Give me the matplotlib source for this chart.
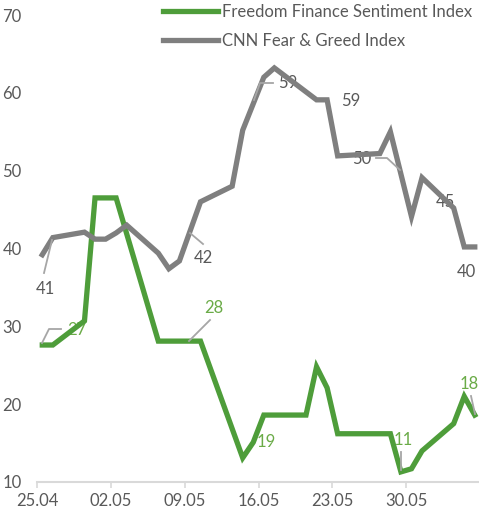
import datetime as dt
import matplotlib
matplotlib.use('Agg')
import matplotlib.pyplot as plt
import matplotlib.dates as mdates

matplotlib.rcParams['font.family'] = ['Lato', 'DejaVu Sans']

# data (day.month of 2022)
ff_dates = ['25.04', '26.04', '29.04', '30.04', '02.05', '06.05', '10.05', '14.05',
            '15.05', '16.05', '20.05', '21.05', '22.05', '23.05', '28.05', '29.05',
            '30.05', '31.05', '03.06', '04.06', '05.06']
ff_values = [27.6, 27.6, 30.7, 46.5, 46.5, 28.1, 28.1, 13.1, 15.1, 18.6, 18.6,
             24.8, 22.1, 16.2, 16.2, 11.3, 11.7, 14.0, 17.5, 21.0, 18.6]

cnn_dates = ['25.04', '26.04', '29.04', '30.04', '01.05', '02.05', '03.05', '06.05',
             '07.05', '08.05', '10.05', '13.05', '14.05', '16.05', '17.05', '21.05',
             '22.05', '23.05', '27.05', '28.05', '30.05', '31.05', '03.06', '04.06',
             '05.06']
cnn_values = [39.2, 41.4, 42.1, 41.2, 41.2, 42.0, 43.0, 39.4, 37.4, 38.4, 46.0,
              48.0, 55.2, 62.0, 63.2, 59.1, 59.1, 51.9, 52.2, 55.0, 44.1, 49.1,
              45.2, 40.2, 40.2]

# data labels: (text, date, hour, value at label)
ff_labels = [('27', '28.04', 18, 29.5), ('28', '11.05', 18, 32.4),
             ('19', '16.05', 18, 15.1), ('11', '29.05', 18, 15.4),
             ('18', '05.06', 0, 22.6)]
cnn_labels = [('41', '25.04', 18, 34.8), ('42', '10.05', 18, 38.8),
              ('59', '18.05', 18, 61.3), ('59', '24.05', 18, 59.0),
              ('50', '25.05', 18, 51.5), ('45', '02.06', 18, 46.0),
              ('40', '04.06', 18, 37.0)]

tick_dates = ['25.04', '02.05', '09.05', '16.05', '23.05', '30.05']


def to_date(s, hours=12):
    d, m = s.split('.')
    return dt.datetime(2022, int(m), int(d)) + dt.timedelta(hours=hours)


green = '#4e9d3a'
grey = '#7f7f7f'
green_txt = '#6aab47'
grey_txt = '#595959'
leader = '#a6a6a6'

fig = plt.figure(figsize=(4.79, 5.13), dpi=100)
ax = fig.add_axes([37/479, 31/513, 442/479, 467/513])

ax.plot([to_date(s) for s in ff_dates], ff_values, color=green, lw=3.8,
        solid_joinstyle='miter', label='Freedom Finance Sentiment Index', zorder=3)
ax.plot([to_date(s) for s in cnn_dates], cnn_values, color=grey, lw=3.8,
        solid_joinstyle='miter', label='CNN Fear & Greed Index', zorder=3)

for txt, d, h, v in ff_labels:
    ax.text(to_date(d, h), v, txt, color=green_txt, fontsize=12, ha='center',
            va='center', zorder=2)
for txt, d, h, v in cnn_labels:
    ax.text(to_date(d, h), v, txt, color=grey_txt, fontsize=12, ha='center',
            va='center', zorder=2)

# leader lines (pixel positions converted through the figure)
leaders = [[(42, 343), (49, 329), (61, 329)],
           [(52, 240), (44, 273)],
           [(189, 341), (210, 320)],
           [(190, 233), (203, 244)],
           [(254, 100), (260, 83), (273, 83)],
           [(376, 158), (387, 158), (400, 170)],
           [(401, 452), (401, 470)],
           [(471, 396), (475, 414)]]
for pts in leaders:
    xs = [p[0] / 479 for p in pts]
    ys = [1 - p[1] / 513 for p in pts]
    fig.add_artist(matplotlib.lines.Line2D(xs, ys, color=leader, lw=1.3, zorder=1))

ax.set_xlim(to_date('25.04', 0), to_date('25.04', 0) + dt.timedelta(days=41.9))
ax.set_ylim(10, 70)
ax.set_yticks(range(10, 71, 10))
ax.set_xticks([to_date(s, 0) for s in tick_dates])
ax.xaxis.set_major_formatter(mdates.DateFormatter('%d.%m'))

for s in ['top', 'right', 'left']:
    ax.spines[s].set_visible(False)
ax.spines['bottom'].set_color('#d9d9d9')
ax.spines['bottom'].set_linewidth(1.5)
ax.tick_params(axis='y', length=0, pad=11, labelsize=12, labelcolor=grey_txt)
ax.tick_params(axis='x', length=4, width=1.2, color='#d9d9d9', pad=4,
               labelsize=12, labelcolor=grey_txt)

fig.legend(loc='upper left', bbox_to_anchor=(163/479, 1 - 4/513), frameon=False,
           fontsize=12, handlelength=3.3, handletextpad=0.25, labelspacing=0.75,
           borderpad=0, borderaxespad=0, labelcolor=grey_txt)

fig.savefig('out.png', dpi=100)
